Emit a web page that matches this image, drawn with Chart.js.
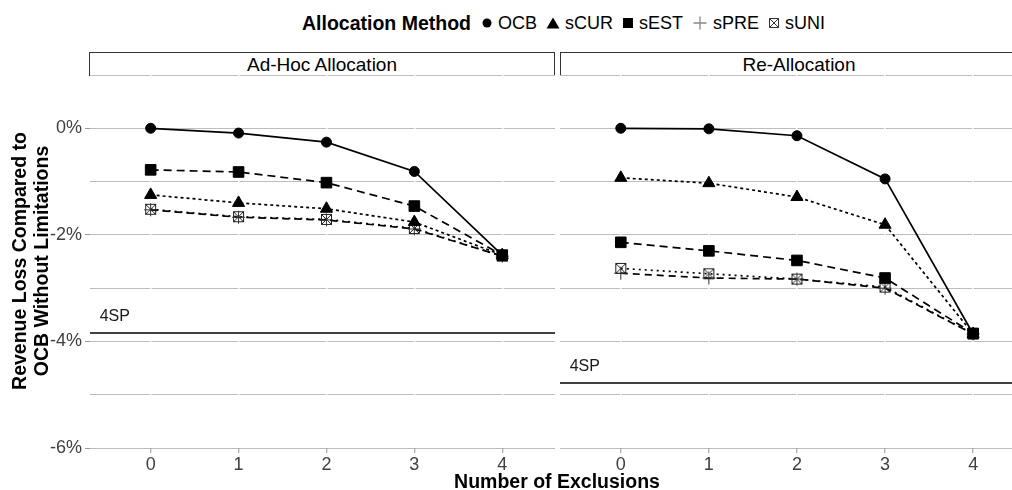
<!DOCTYPE html>
<html>
<head>
<meta charset="utf-8">
<script src="https://cdn.jsdelivr.net/npm/chart.js@4/dist/chart.umd.min.js"></script>
<style>
  body { margin: 0; width: 1012px; height: 490px; overflow: hidden; position: relative; background: #fff;
         font-family: "Liberation Sans", Arial, sans-serif; color: #000; }
  canvas { position: absolute; top: 75px; }
  .legend { position: absolute; left: 302px; top: 10px; height: 26px; display: flex; align-items: center;
            font-size: 18px; white-space: nowrap; }
  .legend b { font-size: 19.5px; margin-right: 10px; }
  .legend svg { margin-right: 5px; }
  .legend span { margin-right: 9px; }
  .strip { position: absolute; top: 52px; height: 23px; width: 464px; border: 1.5px solid #333; border-bottom: none;
           font-size: 19px; text-align: center; line-height: 23px; }
  .ytitle { position: absolute; left: -130px; top: 239px; width: 320px; height: 44px; transform: rotate(-90deg);
            font-weight: bold; font-size: 19.5px; line-height: 22px; text-align: center; }
  .xtitle { position: absolute; left: 0; width: 1114px; top: 470px; font-weight: bold; font-size: 19.5px;
            text-align: center; line-height: 22px; }
</style>
</head>
<body>
<div class="legend">
  <b>Allocation Method</b>
  <svg width="12" height="12"><circle cx="6" cy="6" r="4.5" fill="#000"/></svg><span>OCB</span>
  <svg width="14" height="12"><polygon points="7,0.5 13.5,11.5 0.5,11.5" fill="#000"/></svg><span>sCUR</span>
  <svg width="12" height="12"><rect x="1" y="1" width="10" height="10" fill="#000"/></svg><span>sEST</span>
  <svg width="16" height="16"><path d="M8 1.5V14.5M1.5 8H14.5" stroke="#888" stroke-width="1.3"/></svg><span>sPRE</span>
  <svg width="12" height="12"><path d="M1.5 1.5H10.5V10.5H1.5ZM1.5 1.5L10.5 10.5M10.5 1.5L1.5 10.5" stroke="#333" stroke-width="1" fill="none"/></svg><span>sUNI</span>
</div>
<div class="strip" style="left:89px">Ad-Hoc Allocation</div>
<div class="strip" style="left:560px;text-indent:12px">Re-Allocation</div>
<canvas id="adhoc" width="505" height="405" style="left:50px"></canvas>
<canvas id="realloc" width="466" height="405" style="left:560px"></canvas>
<div class="ytitle">Revenue Loss Compared to<br>OCB Without Limitations</div>
<div class="xtitle">Number of Exclusions</div>
<script>
// number of exclusions on the x axis
const exclusions = [0, 1, 2, 3, 4];
const methods = ['OCB', 'sCUR', 'sEST', 'sPRE', 'sUNI'];

// revenue loss in percent, ad-hoc allocation
const adhocOCB = [0, -0.09, -0.26, -0.81, -2.38];
const adhocCUR = [-1.25, -1.40, -1.51, -1.76, -2.38];
const adhocEST = [-0.78, -0.82, -1.02, -1.46, -2.38];
const adhocPRE = [-1.53, -1.67, -1.72, -1.89, -2.40];
const adhocUNI = [-1.52, -1.66, -1.71, -1.88, -2.40];

// revenue loss in percent, re-allocation
const reallocOCB = [0, -0.01, -0.14, -0.95, -3.86];
const reallocCUR = [-0.93, -1.03, -1.29, -1.81, -3.86];
const reallocEST = [-2.14, -2.30, -2.48, -2.81, -3.85];
const reallocPRE = [-2.72, -2.81, -2.83, -3.00, -3.86];
const reallocUNI = [-2.63, -2.73, -2.83, -2.98, -3.86];

// 4SP reference level per panel
const fourSP = [-3.84, -4.78];

const yTicks = [1, 0, -1, -2, -3, -4, -5, -6];
const xRange = [-0.69, 4.6];
const yRange = [-6, 1];

// boxed cross marker for sUNI
const boxX = (function () {
  const c = document.createElement('canvas');
  c.width = 13; c.height = 13;
  const g = c.getContext('2d');
  g.strokeStyle = '#222';
  g.lineWidth = 1;
  g.strokeRect(1.5, 1.5, 10, 10);
  g.beginPath();
  g.moveTo(1.5, 1.5); g.lineTo(11.5, 11.5);
  g.moveTo(11.5, 1.5); g.lineTo(1.5, 11.5);
  g.stroke();
  return c;
})();

const styles = {
  OCB:  { pointStyle: 'circle', pointRadius: 5, dash: [] },
  sCUR: { pointStyle: 'triangle', pointRadius: 7, dash: [3, 3] },
  sEST: { pointStyle: 'rect', pointRadius: 7.5, dash: [8, 5] },
  sPRE: { pointStyle: 'cross', pointRadius: 6.5, dash: [7, 5] },
  sUNI: { pointStyle: boxX, pointRadius: 6, dash: [2, 4] }
};

const fontFamily = '"Liberation Sans", Arial, sans-serif';

function makePanel(id, series, spLevel, showY) {
  const datasets = methods.map((m, i) => ({
    label: m,
    data: exclusions.map((x, j) => ({ x: x, y: series[i][j] })),
    borderColor: '#000',
    backgroundColor: '#000',
    pointBackgroundColor: m === 'sPRE' ? '#333' : '#000',
    pointBorderColor: m === 'sPRE' ? '#333' : '#000',
    pointBorderWidth: 1,
    borderWidth: 1.7,
    borderDash: styles[m].dash,
    pointStyle: styles[m].pointStyle,
    pointRadius: styles[m].pointRadius,
    tension: 0
  }));
  datasets.push({
    label: '4SP',
    data: xRange.map(x => ({ x: x, y: spLevel })),
    borderColor: '#000',
    borderWidth: 1.5,
    pointRadius: 0
  });

  const spLabel = {
    id: 'spLabel',
    afterDatasetsDraw(chart) {
      const ctx = chart.ctx;
      ctx.save();
      ctx.font = '16px ' + fontFamily;
      ctx.fillStyle = '#1a1a1a';
      ctx.textAlign = 'left';
      ctx.textBaseline = 'middle';
      ctx.fillText('4SP', chart.scales.x.getPixelForValue(-0.58), chart.scales.y.getPixelForValue(spLevel + 0.3));
      ctx.restore();
    }
  };

  return new Chart(document.getElementById(id), {
    type: 'line',
    data: { datasets: datasets },
    plugins: [spLabel],
    options: {
      responsive: false,
      animation: false,
      layout: { padding: 0, autoPadding: false },
      plugins: { legend: { display: false }, tooltip: { enabled: false } },
      scales: {
        x: {
          type: 'linear',
          min: xRange[0],
          max: xRange[1],
          afterBuildTicks: s => { s.ticks = exclusions.map(v => ({ value: v })); },
          afterFit: s => { s.height = 32; s.paddingLeft = 0; s.paddingRight = 0; },
          border: { display: false },
          grid: { color: '#fff', lineWidth: 1.5, z: -1, tickLength: 5, tickColor: '#999', tickWidth: 1 },
          ticks: { color: '#404040', padding: 1, font: { size: 18, family: fontFamily } }
        },
        y: {
          min: yRange[0],
          max: yRange[1],
          afterBuildTicks: s => { s.ticks = yTicks.map(v => ({ value: v })); },
          afterFit: s => { s.width = showY ? 40 : 0; s.paddingTop = 0; s.paddingBottom = 0; },
          border: { display: false },
          grid: {
            color: '#bdbdbd', lineWidth: 1, z: -2,
            drawTicks: showY, tickLength: 5, tickWidth: 1,
            tickColor: c => (c.tick && c.tick.value % 2 === 0) ? '#999' : 'rgba(0,0,0,0)'
          },
          ticks: {
            display: showY,
            color: '#404040',
            padding: 3,
            font: { size: 18, family: fontFamily },
            callback: v => (v % 2 === 0 ? v + '%' : '')
          }
        }
      }
    }
  });
}

makePanel('adhoc', [adhocOCB, adhocCUR, adhocEST, adhocPRE, adhocUNI], fourSP[0], true);
makePanel('realloc', [reallocOCB, reallocCUR, reallocEST, reallocPRE, reallocUNI], fourSP[1], false);
</script>
</body>
</html>
